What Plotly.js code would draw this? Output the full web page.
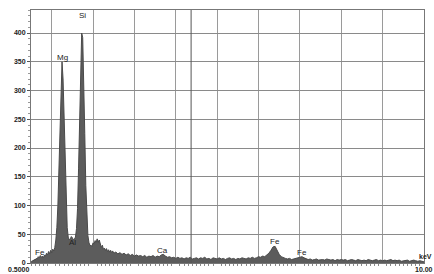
<!DOCTYPE html>
<html><head><meta charset="utf-8">
<script src="https://cdn.plot.ly/plotly-3.0.1.min.js"></script>
<style>html,body{margin:0;padding:0;background:#fff;}#chart{width:434px;height:274px;}</style>
</head><body><div id="chart"></div>
<script>
// Energy (keV) of each channel
var energyKeV = [
0.500,0.525,0.550,0.575,0.600,0.625,0.650,0.675,0.700,0.725,0.750,0.775,0.800,0.825,0.850,0.875,0.900,0.925,0.950,0.975,
1.000,1.025,1.050,1.075,1.100,1.125,1.150,1.175,1.200,1.225,1.250,1.275,1.300,1.325,1.350,1.375,1.400,1.425,1.450,1.475,
1.500,1.525,1.550,1.575,1.600,1.625,1.650,1.675,1.700,1.725,1.750,1.775,1.800,1.825,1.850,1.875,1.900,1.925,1.950,1.975,
2.000,2.025,2.050,2.075,2.100,2.125,2.150,2.175,2.200,2.225,2.250,2.275,2.300,2.325,2.350,2.375,2.400,2.425,2.450,2.475,2.500,
2.55,2.60,2.65,2.70,2.75,2.80,2.85,2.90,2.95,3.00,
3.05,3.10,3.15,3.20,3.25,3.30,3.35,3.40,3.45,3.50,
3.55,3.60,3.65,3.70,3.75,3.80,3.85,3.90,3.95,4.00,
4.05,4.10,4.15,4.20,4.25,4.30,4.35,4.40,4.45,4.50,
4.55,4.60,4.65,4.70,4.75,4.80,4.85,4.90,4.95,5.00,
5.05,5.10,5.15,5.20,5.25,5.30,5.35,5.40,5.45,5.50,
5.55,5.60,5.65,5.70,5.75,5.80,5.85,5.90,5.95,6.00,
6.05,6.10,6.15,6.20,6.25,6.30,6.35,6.40,6.45,6.50,
6.55,6.60,6.65,6.70,6.75,6.80,6.85,6.90,6.95,7.00,
7.05,7.10,7.15,7.20,7.25,7.30,7.35,7.40,7.45,7.50,
7.55,7.60,7.65,7.70,7.75,7.80,7.85,7.90,7.95,8.00,
8.05,8.10,8.15,8.20,8.25,8.30,8.35,8.40,8.45,8.50,
8.55,8.60,8.65,8.70,8.75,8.80,8.85,8.90,8.95,9.00,
9.05,9.10,9.15,9.20,9.25,9.30,9.35,9.40,9.45,9.50,
9.55,9.60,9.65,9.70,9.75,9.80,9.85,9.90,9.95,10.00
];
// Counts per channel
var counts = [
2,4,3,6,5,8,7,11,9,13,10,12,9,14,12,17,14,20,16,22,
18,24,21,27,40,62,100,170,255,320,350,320,255,170,100,62,45,40,42,46,
44,40,42,45,60,95,165,255,345,400,392,325,225,135,75,48,36,30,31,29,
35,33,39,36,42,36,40,31,27,31,24,26,22,25,20,23,19,22,18,21,17,
19,16,18,15,17,14,16,13,15,12,
14,12,13,11,13,10,12,11,13,10,
12,11,14,15,12,10,11,9,10,8,
10,8,9,7,9,8,10,7,8,9,
7,9,8,10,7,8,6,9,8,7,
9,7,8,6,8,9,7,8,6,8,
7,9,8,7,9,8,10,8,9,11,
10,12,11,14,17,22,28,29,22,15,
11,9,8,7,8,6,7,8,9,10,
11,9,7,6,7,5,6,7,5,6,
6,5,7,6,5,6,4,6,5,6,
5,6,4,5,6,5,4,6,5,4,
5,4,6,5,4,5,6,4,5,4,
5,4,5,6,4,5,4,5,3,4,
4,5,3,4,5,4,3,4,3,2
];
// Peak labels
var peakLabels = ["Si","Mg","Fe","Al","Ca","Fe","Fe"];
var peakLabelE = [1.74, 1.25, 0.72, 1.50, 3.69, 6.40, 7.06];
var peakLabelY = [430, 358, 19, 36, 22, 38, 19];
var xEndLabels = ["0.5000","10.00"];
var xUnit = "keV";
var markerLineE = 4.37;

var tickFont = {family:"Liberation Sans, Arial, sans-serif", size:7, color:"#222", weight:"bold"};
var labFont = {family:"Liberation Sans, Arial, sans-serif", size:8, color:"#222"};

var anns = peakLabels.map(function(t,i){
  return {x:peakLabelE[i], y:peakLabelY[i], xref:'x', yref:'y', text:t, showarrow:false,
          font:labFont, xanchor:'center', yanchor:'middle'};
});
anns.push({x:0, y:0, xref:'paper', yref:'paper', text:xEndLabels[0], showarrow:false, font:tickFont,
           xanchor:'right', yanchor:'top', xshift:1, yshift:-1});
anns.push({x:1, y:0, xref:'paper', yref:'paper', text:xEndLabels[1], showarrow:false, font:tickFont,
           xanchor:'center', yanchor:'top', xshift:0, yshift:-1});
anns.push({x:1, y:0, xref:'paper', yref:'paper', text:xUnit, showarrow:false, font:tickFont,
           xanchor:'right', yanchor:'bottom', xshift:10, yshift:1});

var trace = {x:energyKeV, y:counts, type:'scatter', mode:'lines', fill:'tozeroy',
  line:{color:'#4a4a4a', width:1}, fillcolor:'#5c5c5c', hoverinfo:'skip'};

var layout = {
  width:434, height:274,
  margin:{l:31, r:10, t:10, b:11, pad:0},
  paper_bgcolor:'#fff', plot_bgcolor:'#fff',
  showlegend:false,
  xaxis:{range:[0.5,10], tick0:0, dtick:1, showticklabels:false, ticks:'',
    showgrid:true, gridcolor:'#9a9a9a', gridwidth:1, zeroline:false,
    showline:true, linecolor:'#777', linewidth:1, mirror:true,
    minor:{dtick:0.1, ticks:'outside', ticklen:2, tickcolor:'#888', showgrid:false}},
  yaxis:{range:[0,440], tick0:0, dtick:50, ticks:'outside', ticklen:3, tickcolor:'#555',
    tickfont:tickFont, showgrid:true, gridcolor:'#8a8a8a', gridwidth:1, zeroline:false,
    showline:true, linecolor:'#777', linewidth:1, mirror:true,
    minor:{dtick:10, ticks:'outside', ticklen:2, tickcolor:'#999', showgrid:false}},
  shapes:[{type:'line', xref:'x', yref:'paper', x0:markerLineE, x1:markerLineE, y0:0, y1:1,
    line:{color:'#555', width:1}}],
  annotations:anns
};
Plotly.newPlot('chart',[trace],layout,{displayModeBar:false, staticPlot:true});
</script>
</body></html>
